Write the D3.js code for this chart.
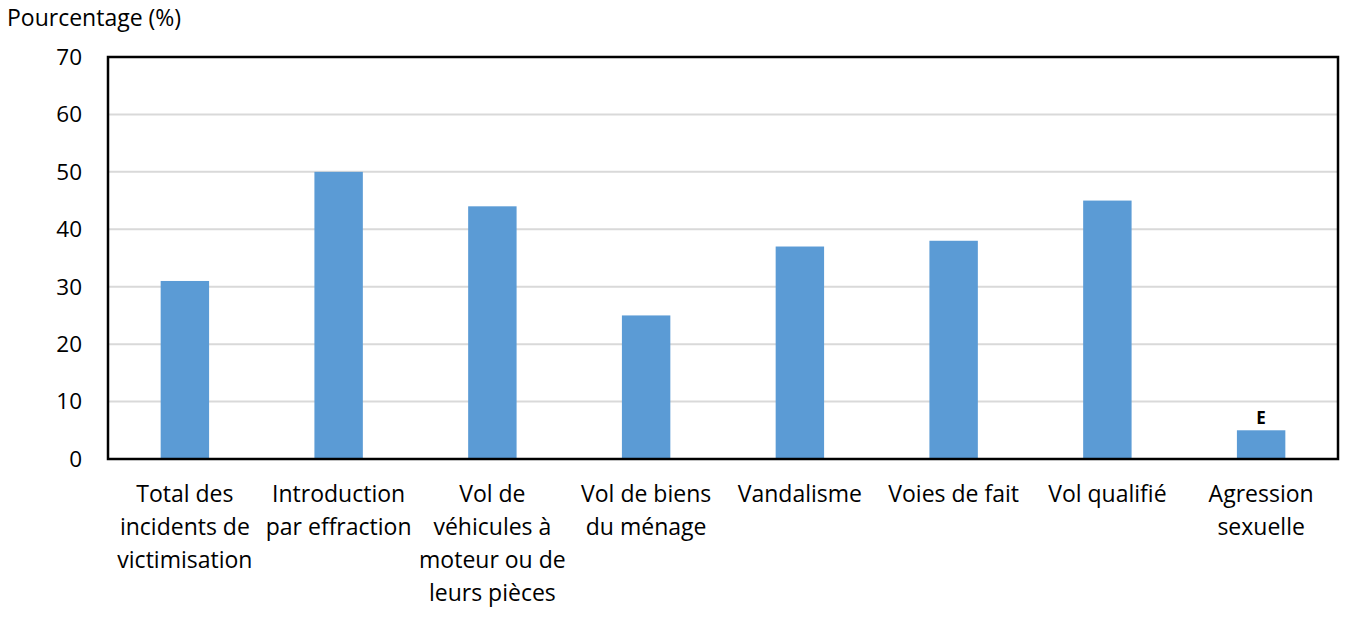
<!DOCTYPE html>
<html>
<head>
<meta charset="utf-8">
<script src="https://cdn.jsdelivr.net/npm/d3@7"></script>
<style>
  body { margin: 0; background: #fff; }
  text { font-family: "Open Sans", Lato, sans-serif; fill: #000; }
</style>
</head>
<body>
<svg id="chart" width="1357" height="617"></svg>
<script>
// categories, each split into the lines shown under the bar
const categories = [
    ["Total des", "incidents de", "victimisation"],
    ["Introduction", "par effraction"],
    ["Vol de", "véhicules à", "moteur ou de", "leurs pièces"],
    ["Vol de biens", "du ménage"],
    ["Vandalisme"],
    ["Voies de fait"],
    ["Vol qualifié"],
    ["Agression", "sexuelle"]
]
const values = [31, 50, 44, 25, 37, 38, 45, 5]
const flags = ["", "", "", "", "", "", "", "E"]
const yTicks = [0, 10, 20, 30, 40, 50, 60, 70]

const svg = d3.select("#chart")
const margin = { top: 57, right: 19, bottom: 158, left: 108 }
const width = 1357 - margin.left - margin.right
const height = 617 - margin.top - margin.bottom

const g = svg.append("g").attr("transform", `translate(${margin.left},${margin.top})`)

const x = d3.scaleBand()
    .domain(d3.range(categories.length))
    .range([0, width])
    .paddingInner(0.685)
    .paddingOuter(0.3425)

const y = d3.scaleLinear().domain([0, 70]).range([height, 0])

// gridlines
g.append("g")
    .selectAll("line")
    .data(yTicks.filter(t => t > 0 && t < 70))
    .join("line")
    .attr("x1", 0).attr("x2", width)
    .attr("y1", d => y(d)).attr("y2", d => y(d))
    .attr("stroke", "#d9d9d9")
    .attr("stroke-width", 2)

// y tick labels
g.append("g")
    .selectAll("text")
    .data(yTicks)
    .join("text")
    .attr("x", -26)
    .attr("y", d => y(d))
    .attr("dy", "0.35em")
    .attr("text-anchor", "end")
    .style("font-size", "22.5px")
    .text(d => d)

// bars
g.append("g")
    .selectAll("rect")
    .data(values)
    .join("rect")
    .attr("x", (d, i) => x(i))
    .attr("y", d => y(d))
    .attr("width", x.bandwidth())
    .attr("height", d => height - y(d))
    .attr("fill", "#5b9bd5")

// quality flags above bars
g.append("g")
    .selectAll("text")
    .data(flags)
    .join("text")
    .attr("x", (d, i) => x(i) + x.bandwidth() / 2)
    .attr("y", (d, i) => y(values[i]) - 6)
    .attr("text-anchor", "middle")
    .style("font-size", "17px")
    .style("font-weight", "bold")
    .text(d => d)

// frame
g.append("rect")
    .attr("width", width)
    .attr("height", height)
    .attr("fill", "none")
    .attr("stroke", "#000")
    .attr("stroke-width", 2.5)

// category labels
const labels = g.append("g")
    .selectAll("text")
    .data(categories)
    .join("text")
    .attr("text-anchor", "middle")
    .attr("transform", (d, i) => `translate(${x(i) + x.bandwidth() / 2},${height + 43})`)
    .style("font-size", "23px")

labels.selectAll("tspan")
    .data(d => d)
    .join("tspan")
    .attr("x", 0)
    .attr("y", (d, i) => i * 33)
    .text(d => d)

// axis title
svg.append("text")
    .attr("x", 7)
    .attr("y", 26)
    .style("font-size", "23px")
    .text("Pourcentage (%)")
</script>
</body>
</html>
